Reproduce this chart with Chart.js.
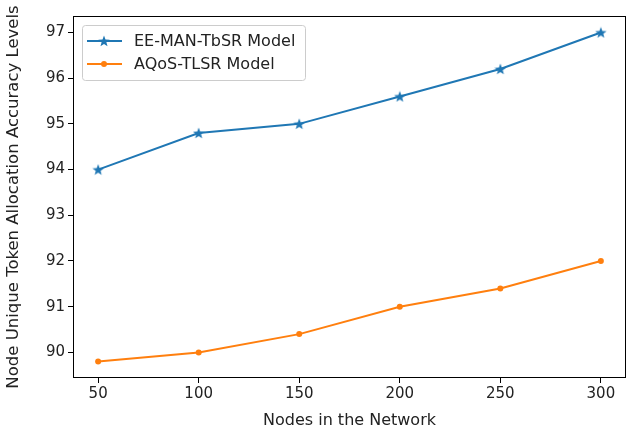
<!DOCTYPE html>
<html>
<head>
<meta charset="utf-8">
<script src="https://cdn.jsdelivr.net/npm/chart.js@4.4.1/dist/chart.umd.min.js"></script>
<style>
  html, body { margin: 0; padding: 0; background: #fff; }
  #wrap { width: 627px; height: 430px; }
</style>
</head>
<body>
<div id="wrap"><canvas id="myChart" width="627" height="430"></canvas></div>
<script>
// data
var nodes = [50, 100, 150, 200, 250, 300];
var eemanValues = [94.0, 94.8, 95.0, 95.6, 96.2, 97.0];
var aqosValues = [89.8, 90.0, 90.4, 91.0, 91.4, 92.0];
var xTicks = [50, 100, 150, 200, 250, 300];
var yTicks = [90, 91, 92, 93, 94, 95, 96, 97];
var seriesNames = ["EE-MAN-TbSR Model", "AQoS-TLSR Model"];

var blue = "#1f77b4";
var orange = "#ff7f0e";
var fontFamily = "'DejaVu Sans', sans-serif";

// filled five point star like matplotlib's "*"
function makeStar(size, color) {
  var c = document.createElement("canvas");
  c.width = size;
  c.height = size;
  var g = c.getContext("2d");
  var cx = size / 2, cy = size / 2 + 0.5;
  var R = size / 2, r = R * 0.42;
  g.beginPath();
  for (var i = 0; i < 10; i++) {
    var rad = i % 2 === 0 ? R : r;
    var a = -Math.PI / 2 + (i * Math.PI) / 5;
    var px = cx + rad * Math.cos(a), py = cy + rad * Math.sin(a);
    if (i === 0) g.moveTo(px, py);
    else g.lineTo(px, py);
  }
  g.closePath();
  g.fillStyle = color;
  g.fill();
  return c;
}
var starImg = makeStar(12, blue);

function toPoints(xs, ys) {
  return xs.map(function (x, i) { return { x: x, y: ys[i] }; });
}

// box around the plot + legend inside top-left, matplotlib style
var framePlugin = {
  id: "frame",
  afterDraw: function (chart) {
    var ctx = chart.ctx;
    var a = chart.chartArea;
    ctx.save();
    ctx.strokeStyle = "#000";
    ctx.lineWidth = 1;
    ctx.strokeRect(a.left + 0.5, a.top + 0.5, a.right - a.left - 1, a.bottom - a.top - 1);

    // legend
    var lx = a.left + 9, ly = a.top + 9, lw = 223, lh = 55;
    ctx.fillStyle = "rgba(255,255,255,0.8)";
    ctx.strokeStyle = "#cccccc";
    ctx.lineWidth = 1;
    ctx.beginPath();
    ctx.roundRect(lx + 0.5, ly + 0.5, lw, lh, 3);
    ctx.fill();
    ctx.stroke();

    var rows = [
      { name: seriesNames[0], color: blue, star: true },
      { name: seriesNames[1], color: orange, star: false }
    ];
    ctx.font = "16px " + fontFamily;
    ctx.textBaseline = "middle";
    rows.forEach(function (row, i) {
      var yy = ly + 16 + i * 23;
      ctx.strokeStyle = row.color;
      ctx.lineWidth = 2;
      ctx.beginPath();
      ctx.moveTo(lx + 5, yy);
      ctx.lineTo(lx + 40, yy);
      ctx.stroke();
      if (row.star) {
        ctx.drawImage(starImg, lx + 22 - 6, yy - 6);
      } else {
        ctx.fillStyle = row.color;
        ctx.beginPath();
        ctx.arc(lx + 22, yy, 3, 0, Math.PI * 2);
        ctx.fill();
      }
      ctx.fillStyle = "#222";
      ctx.fillText(row.name, lx + 52, yy + 1);
    });
    ctx.restore();
  }
};

var ctx = document.getElementById("myChart").getContext("2d");
// eslint-disable-next-line no-undef
var myChart = new Chart(ctx, {
  type: "line",
  data: {
    datasets: [
      {
        label: seriesNames[0],
        data: toPoints(nodes, eemanValues),
        borderColor: blue,
        backgroundColor: blue,
        borderWidth: 2,
        pointStyle: starImg,
        pointRadius: 6,
        pointHoverRadius: 6,
      },
      {
        label: seriesNames[1],
        data: toPoints(nodes, aqosValues),
        borderColor: orange,
        backgroundColor: orange,
        borderWidth: 2,
        pointStyle: "circle",
        pointRadius: 3,
        pointBorderWidth: 0,
        pointHoverRadius: 3,
      },
    ],
  },
  options: {
    responsive: false,
    animation: false,
    layout: { autoPadding: false, padding: { top: 16, right: 1, left: 0, bottom: 0 } },
    plugins: {
      legend: { display: false },
      tooltip: { enabled: false },
    },
    scales: {
      x: {
        type: "linear",
        min: 37.5,
        max: 312.5,
        afterBuildTicks: function (axis) {
          axis.ticks = xTicks.map(function (v) { return { value: v }; });
        },
        afterFit: function (axis) {
          axis.height = 52;
          axis.paddingLeft = 0;
          axis.paddingRight = 0;
        },
        grid: { display: true, drawOnChartArea: false, drawTicks: true, tickLength: 5, color: "#000" },
        border: { display: false },
        ticks: { color: "#222", font: { family: fontFamily, size: 15 }, padding: 2, maxRotation: 0 },
        title: {
          display: true,
          text: "Nodes in the Network",
          color: "#222",
          font: { family: fontFamily, size: 16 },
          padding: { top: 1, bottom: 0 },
        },
      },
      y: {
        min: 89.44,
        max: 97.36,
        afterBuildTicks: function (axis) {
          axis.ticks = yTicks.map(function (v) { return { value: v }; });
        },
        afterFit: function (axis) {
          axis.width = 73;
          axis.paddingTop = 0;
          axis.paddingBottom = 0;
        },
        grid: { display: true, drawOnChartArea: false, drawTicks: true, tickLength: 5, color: "#000" },
        border: { display: false },
        ticks: { color: "#222", font: { family: fontFamily, size: 15 }, padding: 3 },
        title: {
          display: true,
          text: "Node Unique Token Allocation Accuracy Levels",
          color: "#222",
          font: { family: fontFamily, size: 16.5 },
          padding: { top: 4, bottom: 4 },
        },
      },
    },
  },
  plugins: [framePlugin],
});
</script>
</body>
</html>
